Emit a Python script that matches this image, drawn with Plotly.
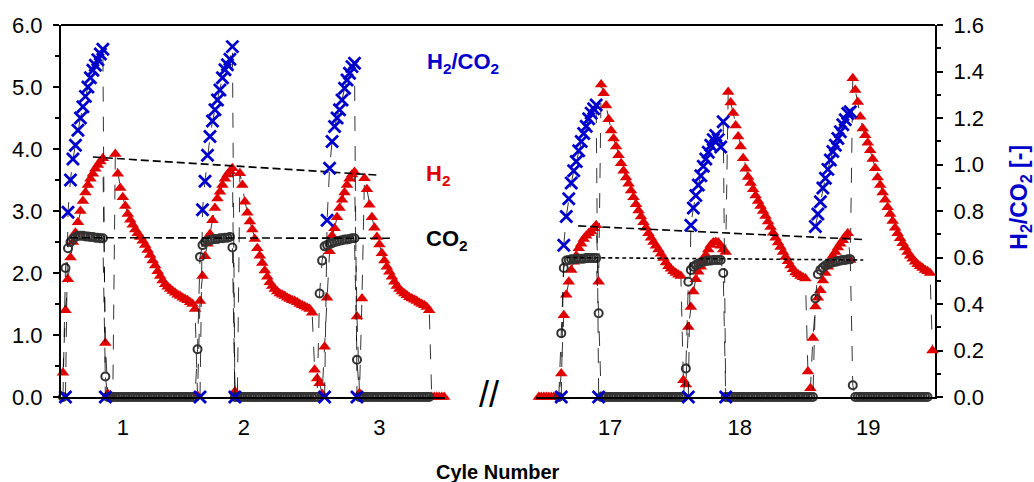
import numpy as np
import plotly.graph_objects as go

N = None
DT = 2.5            # sampling interval (time units)
T0_LEFT = 60.0      # first sample, cycles 1-3
T0_RIGHT = 537.5    # first sample, cycles 17-19

# ---------------- cycles 1-3 ----------------
H2_LEFT = [
    0.39, 1.40, 1.90, 2.25, 2.50, 2.65, 2.82, 3.00, 3.16, 3.30,
    3.42, 3.52, 3.60, 3.68, 3.74, 3.80, 3.85, 0.87, 0.05, 0.02,
    0.00, 3.92, 3.60, 3.37, 3.22, 3.08, 2.95, 2.86, 2.78, 2.70,
    2.64, 2.58, 2.52, 2.45, 2.37, 2.29, 2.20, 2.12, 2.03, 1.95,
    1.88, 1.82, 1.78, 1.74, 1.71, 1.68, 1.65, 1.63, 1.60, 1.58,
    1.56, 1.53, 1.50, 1.42, 0.02, 1.55, 1.95, 2.27, 2.47, 2.63,
    2.85, 3.05, 3.20, 3.31, 3.42, 3.52, 3.59, 3.64, 3.69, 0.09,
    0.00, 3.61, 3.42, 3.15, 2.97, 2.83, 2.70, 2.55, 2.40, 2.28,
    2.16, 2.04, 1.94, 1.85, 1.79, 1.74, 1.70, 1.67, 1.65, 1.63,
    1.60, 1.58, 1.56, 1.55, 1.53, 1.50, 1.48, 1.46, 1.44, 1.42,
    1.36, 0.44, 0.30, 0.22, 0.05, 0.81, 1.60, 2.35, 2.60, 2.72,
    2.90, 3.05, 3.18, 3.30, 3.42, 3.52, 3.59, 3.63, 1.30, 0.06,
    1.59, 3.53, 3.35, 3.10, 2.90, 2.73, 2.58, 2.46, 2.32, 2.20,
    2.10, 2.02, 1.94, 1.86, 1.79, 1.74, 1.70, 1.67, 1.64, 1.61,
    1.59, 1.57, 1.55, 1.52, 1.50, 1.48, 1.45, 1.40, 0.00, 0.00,
    0.00, 0.00, 0.00, 0.00,
]
CO2_LEFT = [
    0.00, 2.08, 2.40, 2.50, 2.55, 2.58, 2.60, 2.60, 2.60, 2.59,
    2.59, 2.58, 2.58, 2.57, 2.57, 2.56, 2.56, 0.33, 0, 0,
    0, 0, 0, 0, 0, 0, 0, 0, 0, 0,
    0, 0, 0, 0, 0, 0, 0, 0, 0, 0,
    0, 0, 0, 0, 0, 0, 0, 0, 0, 0,
    0, 0, 0, 0, 0.77, 2.26, 2.45, 2.50, 2.52, 2.53,
    2.54, 2.55, 2.55, 2.56, 2.56, 2.57, 2.57, 2.58, 2.41, 0,
    0, 0, 0, 0, 0, 0, 0, 0, 0, 0,
    0, 0, 0, 0, 0, 0, 0, 0, 0, 0,
    0, 0, 0, 0, 0, 0, 0, 0, 0, 0,
    0, 0, 0, 1.67, 2.20, 2.43, 2.45, 2.47, 2.48, 2.50,
    2.51, 2.52, 2.53, 2.54, 2.54, 2.55, 2.56, 2.56, 0.60, 0,
    0, 0, 0, 0, 0, 0, 0, 0, 0, 0,
    0, 0, 0, 0, 0, 0, 0, 0, 0, 0,
    0, 0, 0, 0, 0, 0, 0, 0, N, N,
    N, N, N, N,
]
RATIO_LEFT = [
    N, 0, 0.795, 0.933, 1.024, 1.083, 1.147, 1.200, 1.248, 1.293,
    1.333, 1.373, 1.405, 1.427, 1.451, 1.475, 1.496, 0, N, N,
    N, N, N, N, N, N, N, N, N, N,
    N, N, N, N, N, N, N, N, N, N,
    N, N, N, N, N, N, N, N, N, N,
    N, N, N, N, N, 0, 0.805, 0.928, 1.040, 1.120,
    1.187, 1.235, 1.277, 1.320, 1.373, 1.408, 1.429, 1.453, 1.507, 0,
    N, N, N, N, N, N, N, N, N, N,
    N, N, N, N, N, N, N, N, N, N,
    N, N, N, N, N, N, N, N, N, N,
    N, N, N, N, N, 0, 0.760, 0.984, 1.099, 1.163,
    1.200, 1.235, 1.277, 1.328, 1.363, 1.392, 1.421, 1.435, 0, N,
]

# ---------------- cycles 17-19 ----------------
H2_RIGHT = [
    0, 0, 0, 0, 0, 0, 0, 0, 0, 0.38,
    1.32, 1.65, 1.86, 2.05, 2.18, 2.28, 2.40, 2.47, 2.55, 2.60,
    2.64, 2.67, 2.72, 2.77, 1.86, 5.04, 4.90, 4.70, 4.48, 4.30,
    4.17, 4.04, 3.90, 3.77, 3.65, 3.54, 3.44, 3.33, 3.22, 3.11,
    3.01, 2.91, 2.82, 2.73, 2.64, 2.57, 2.50, 2.44, 2.38, 2.31,
    2.24, 2.17, 2.11, 2.07, 2.03, 2.00, 1.97, 1.95, 0.27, 0.20,
    1.13, 1.45, 1.70, 1.90, 2.02, 2.10, 2.18, 2.29, 2.38, 2.45,
    2.49, 2.50, 2.49, 2.44, 2.38, 2.34, 4.92, 4.75, 4.58, 4.38,
    4.20, 4.04, 3.85, 3.68, 3.55, 3.45, 3.35, 3.25, 3.16, 3.08,
    3.00, 2.92, 2.83, 2.74, 2.65, 2.57, 2.49, 2.42, 2.34, 2.26,
    2.19, 2.12, 2.06, 2.01, 1.98, 1.95, 1.93, 1.91, 0.41, 0.14,
    0.95, 1.46, 1.60, 1.72, 1.88, 2.00, 2.10, 2.20, 2.28, 2.34,
    2.41, 2.47, 2.53, 2.59, 2.64, 2.21, 5.14, 4.95, 4.76, 4.52,
    4.33, 4.22, 4.10, 3.98, 3.84, 3.69, 3.54, 3.42, 3.30, 3.18,
    3.06, 2.95, 2.84, 2.73, 2.64, 2.56, 2.48, 2.41, 2.34, 2.28,
    2.23, 2.18, 2.14, 2.11, 2.08, 2.05, 2.03, 2.00, 0.75,
]
CO2_RIGHT = [
    N, N, N, N, N, N, N, N, 0, 1.03,
    2.08, 2.20, 2.21, 2.22, 2.22, 2.23, 2.23, 2.23, 2.23, 2.24,
    2.24, 2.24, 2.24, 2.24, 1.35, 0, 0, 0, 0, 0,
    0, 0, 0, 0, 0, 0, 0, 0, 0, 0,
    0, 0, 0, 0, 0, 0, 0, 0, 0, 0,
    0, 0, 0, 0, 0, 0, 0, 0, 0, 0.46,
    1.86, 2.05, 2.10, 2.13, 2.15, 2.17, 2.18, 2.19, 2.20, 2.20,
    2.21, 2.21, 2.21, 2.21, 2.00, 0, 0, 0, 0, 0,
    0, 0, 0, 0, 0, 0, 0, 0, 0, 0,
    0, 0, 0, 0, 0, 0, 0, 0, 0, 0,
    0, 0, 0, 0, 0, 0, 0, 0, 0, 0,
    0, 1.59, 1.98, 2.05, 2.09, 2.12, 2.14, 2.16, 2.17, 2.18,
    2.19, 2.20, 2.21, 2.21, 2.22, 2.22, 0.19, 0, 0, 0,
    0, 0, 0, 0, 0, 0, 0, 0, 0, 0,
    0, 0, 0, 0, 0, 0, 0, 0, 0, 0,
    0, 0, 0, 0, 0, 0, 0, N, N,
]
RATIO_RIGHT = [
    N, N, N, N, N, N, N, N, N, 0,
    0.653, 0.776, 0.853, 0.920, 0.973, 1.013, 1.059, 1.099, 1.133, 1.165,
    1.197, 1.221, 1.240, 1.256, 0, N, N, N, N, N,
    N, N, N, N, N, N, N, N, N, N,
    N, N, N, N, N, N, N, N, N, N,
    N, N, N, N, N, N, N, N, N, N,
    0, 0.739, 0.813, 0.867, 0.912, 0.952, 0.992, 1.024, 1.053, 1.083,
    1.107, 1.125, 1.107, 1.075, 1.184, 0, N, N, N, N,
    N, N, N, N, N, N, N, N, N, N,
    N, N, N, N, N, N, N, N, N, N,
    N, N, N, N, N, N, N, N, N, N,
    N, 0.733, 0.787, 0.840, 0.899, 0.941, 0.979, 1.019, 1.056, 1.083,
    1.112, 1.141, 1.171, 1.192, 1.219, 1.227,
]

# trend lines through the plateaus / peaks (time, value)
TREND_H2_LEFT_T, TREND_H2_LEFT_V = [90, 376], [3.87, 3.58]
TREND_CO2_LEFT_T, TREND_CO2_LEFT_V = [67, 388], [2.57, 2.56]
TREND_H2_RIGHT_T, TREND_H2_RIGHT_V = [577, 863], [2.76, 2.54]
TREND_CO2_RIGHT_T, TREND_CO2_RIGHT_V = [565, 863], [2.25, 2.21]

# x-axis cycle labels
CYCLE_TEXT_LEFT = ["1", "2", "3"]
CYCLE_TEXT_RIGHT = ["17", "18", "19"]
CYCLE_AT_LEFT = [120, 241.5, 377.5]
CYCLE_AT_RIGHT = [609, 739, 868]

RED = "#E10000"
BLUE = "#0000CC"
GREY = "#333333"
FONT = "Liberation Sans, Arial, sans-serif"


def times(t0, vals):
    return (t0 + DT * np.arange(len(vals))).tolist()


fig = go.Figure()
conn = dict(color="black", width=0.8, dash="longdash")

for xa, t0, h2, co2, ratio in [
    ("x", T0_LEFT, H2_LEFT, CO2_LEFT, RATIO_LEFT),
    ("x2", T0_RIGHT, H2_RIGHT, CO2_RIGHT, RATIO_RIGHT),
]:
    fig.add_trace(go.Scatter(
        x=times(t0, h2), y=h2, xaxis=xa, yaxis="y", mode="lines+markers",
        line=conn, connectgaps=False, cliponaxis=False,
        marker=dict(symbol="triangle-up", size=11, color=RED, line=dict(width=0)),
        name="H2"))
    fig.add_trace(go.Scatter(
        x=times(t0, co2), y=co2, xaxis=xa, yaxis="y", mode="lines+markers",
        line=conn, connectgaps=False, cliponaxis=False,
        marker=dict(symbol="circle-open", size=8, color=GREY, line=dict(width=2, color=GREY)),
        name="CO2"))
    fig.add_trace(go.Scatter(
        x=times(t0, ratio), y=ratio, xaxis=xa, yaxis="y2", mode="lines+markers",
        line=conn, connectgaps=False, cliponaxis=False,
        marker=dict(symbol="x-thin", size=12, color=BLUE, line=dict(width=2.8, color=BLUE)),
        name="H2/CO2"))

for xa, tt, vv, dash in [
    ("x", TREND_H2_LEFT_T, TREND_H2_LEFT_V, "8px,4px"),
    ("x", TREND_CO2_LEFT_T, TREND_CO2_LEFT_V, "8px,4px"),
    ("x2", TREND_H2_RIGHT_T, TREND_H2_RIGHT_V, "8px,4px"),
    ("x2", TREND_CO2_RIGHT_T, TREND_CO2_RIGHT_V, "4px,3px"),
]:
    fig.add_trace(go.Scatter(x=tt, y=vv, xaxis=xa, yaxis="y", mode="lines",
                             line=dict(color="black", width=1.6, dash=dash),
                             hoverinfo="skip"))

W_PLOT = 877.0
xcommon = dict(showline=True, linecolor="black", linewidth=2, showgrid=False,
               zeroline=False, ticks="", tickmode="array",
               tickfont=dict(size=22, color="black", family=FONT),
               ticklabelstandoff=10, fixedrange=True)
ycommon = dict(showline=True, linecolor="black", linewidth=2, showgrid=False,
               zeroline=False, ticks="outside", ticklen=6, tickwidth=1.5,
               tickcolor="black", tickformat=".1f",
               tickfont=dict(size=22, color="black", family=FONT),
               ticklabelstandoff=6)

fig.update_layout(
    width=1034, height=482,
    margin=dict(l=58, r=99, t=25, b=85),
    paper_bgcolor="white", plot_bgcolor="white",
    showlegend=False,
    font=dict(family=FONT, color="black"),
    xaxis=dict(domain=[0, 385 / W_PLOT], range=[58, 443],
               tickvals=CYCLE_AT_LEFT, ticktext=CYCLE_TEXT_LEFT, **xcommon),
    xaxis2=dict(domain=[477 / W_PLOT, 1], range=[535, 935],
                tickvals=CYCLE_AT_RIGHT, ticktext=CYCLE_TEXT_RIGHT, **xcommon),
    yaxis=dict(range=[0, 6], anchor="x", dtick=1, tick0=0,
               minor=dict(dtick=0.5, ticks="outside", ticklen=4, tickwidth=1.5, tickcolor="black"),
               **ycommon),
    yaxis2=dict(range=[0, 1.6], anchor="x2", overlaying="y", side="right",
                dtick=0.2, tick0=0,
                minor=dict(dtick=0.1, ticks="outside", ticklen=4, tickwidth=1.5, tickcolor="black"),
                **ycommon),
    shapes=[dict(type="line", xref="paper", yref="paper", x0=0, x1=1, y0=1, y1=1,
                 line=dict(color="black", width=2))],
)


def px_x(px):
    return (px - 58) / W_PLOT


def px_y(py):
    return (397 - py) / 372.0


ann = [
    dict(text="<b>H<sub>2</sub>/CO<sub>2</sub></b>", x=px_x(461), y=px_y(63),
         font=dict(size=22, color=BLUE)),
    dict(text="<b>H<sub>2</sub></b>", x=px_x(436), y=px_y(175),
         font=dict(size=22, color=RED)),
    dict(text="<b>CO<sub>2</sub></b>", x=px_x(445), y=px_y(240),
         font=dict(size=22, color="black")),
    dict(text="<b>H<sub>2</sub>/CO<sub>2</sub> [-]</b>", x=px_x(1020), y=px_y(197),
         textangle=-90, font=dict(size=23, color=BLUE)),
    dict(text="//", x=px_x(487.5), y=px_y(394), font=dict(size=36, color="black")),
    dict(text="<b>Cyle Number</b>", x=px_x(497), y=px_y(472),
         font=dict(size=20, color="black")),
]
for a in ann:
    a.update(xref="paper", yref="paper", showarrow=False,
             xanchor="center", yanchor="middle")
    a["font"]["family"] = FONT
fig.update_layout(annotations=ann)

fig.write_html("out.html")
